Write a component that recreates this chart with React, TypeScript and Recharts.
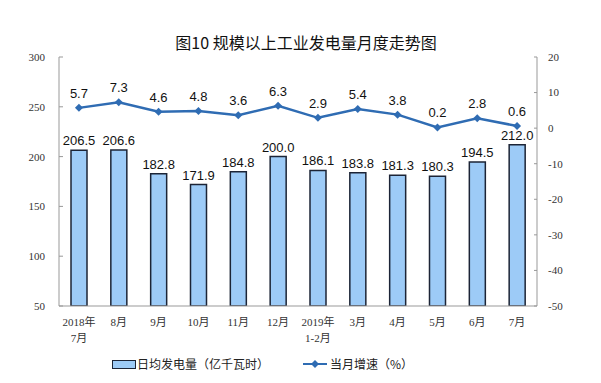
import React from "react";
import {
  Bar,
  ComposedChart,
  LabelList,
  Line,
  XAxis,
  YAxis,
} from "recharts";

// 日均发电量（亿千瓦时）与当月增速（%）
const months = [
  "2018年|7月",
  "8月",
  "9月",
  "10月",
  "11月",
  "12月",
  "2019年|1-2月",
  "3月",
  "4月",
  "5月",
  "6月",
  "7月",
];
const dailyOutput = [206.5, 206.6, 182.8, 171.9, 184.8, 200.0, 186.1, 183.8, 181.3, 180.3, 194.5, 212.0];
const growth = [5.7, 7.3, 4.6, 4.8, 3.6, 6.3, 2.9, 5.4, 3.8, 0.2, 2.8, 0.6];
const leftTicks = [50, 100, 150, 200, 250, 300];
const rightTicks = [-50, -40, -30, -20, -10, 0, 10, 20];

const data = months.map((m, i) => ({ month: m, output: dailyOutput[i], growth: growth[i] }));

const SERIF = "'Liberation Serif', 'Times New Roman', 'Noto Sans CJK SC', serif";
const SANS = "'Liberation Sans', Arial, sans-serif";
const CJK = "'Noto Sans CJK SC', sans-serif";
const BAR_FILL = "#9dcbf7";
const BAR_STROKE = "#1c2436";
const LINE = "#2f6cb3";

const MonthTick = (props: any) => {
  const { x, y, payload } = props;
  const lines = String(payload.value).split("|");
  return (
    <g transform={`translate(${x},${y})`}>
      {lines.map((t, i) => (
        <text
          key={i}
          x={0}
          y={12 + i * 16}
          textAnchor="middle"
          fill="#333"
          fontSize={11}
          fontFamily={SERIF}
        >
          {t}
        </text>
      ))}
    </g>
  );
};

const Diamond = (props: any) => {
  const { cx, cy } = props;
  if (cx == null || cy == null) return null;
  return <path d={`M${cx},${cy - 4}L${cx + 4},${cy}L${cx},${cy + 4}L${cx - 4},${cy}Z`} fill={LINE} />;
};

// legend drawn outside the chart so it doesn't eat into the plot height
const ChartLegend = () => (
  <div
    style={{
      position: "absolute",
      left: 0,
      top: 355,
      width: 601,
      height: 20,
      fontFamily: CJK,
      fontSize: 12,
      color: "#222",
    }}
  >
    <div
      style={{
        position: "absolute",
        left: 112,
        top: 5,
        width: 22,
        height: 7,
        background: BAR_FILL,
        border: `1px solid ${BAR_STROKE}`,
      }}
    />
    <span style={{ position: "absolute", left: 137, top: 0 }}>日均发电量（亿千瓦时）</span>
    <svg style={{ position: "absolute", left: 303, top: 3 }} width={24} height={12}>
      <line x1={0} y1={6} x2={24} y2={6} stroke={LINE} strokeWidth={2} />
      <path d="M12,2L16,6L12,10L8,6Z" fill={LINE} />
    </svg>
    <span style={{ position: "absolute", left: 330, top: 0 }}>当月增速（%）</span>
  </div>
);

export default function App() {
  return (
    <div style={{ position: "absolute", left: 0, top: 0, width: 601, height: 383, background: "#fff" }}>
      <div
        style={{
          position: "absolute",
          top: 30,
          left: 175,
          width: 262,
          textAlign: "center",
          fontFamily: CJK,
          fontSize: 16,
          fontWeight: 400,
          color: "#111",
          whiteSpace: "nowrap",
        }}
      >
        图10 规模以上工业发电量月度走势图
      </div>
      <ComposedChart
        width={601}
        height={383}
        data={data}
        margin={{ top: 57, right: 0, bottom: 37, left: 0 }}
      >
        <XAxis
          dataKey="month"
          tick={<MonthTick />}
          interval={0}
          height={40}
          axisLine={{ stroke: "#999" }}
          tickLine={false}
        />
        <YAxis
          yAxisId="left"
          orientation="left"
          width={59}
          domain={[50, 300]}
          ticks={leftTicks}
          allowDataOverflow
          axisLine={{ stroke: "#999" }}
          tickLine={{ stroke: "#999" }}
          tickSize={-4}
          tickMargin={18}
          tick={{ fill: "#333", fontSize: 11, fontFamily: SERIF }}
        />
        <YAxis
          yAxisId="right"
          orientation="right"
          width={64}
          domain={[-50, 20]}
          ticks={rightTicks}
          axisLine={{ stroke: "#999" }}
          tickLine={{ stroke: "#999" }}
          tickSize={-3}
          tickMargin={14}
          tick={{ fill: "#333", fontSize: 11, fontFamily: SERIF }}
        />
        <Bar
          yAxisId="left"
          dataKey="output"
          fill={BAR_FILL}
          stroke={BAR_STROKE}
          strokeWidth={1.5}
          barSize={16}
          isAnimationActive={false}
        >
          <LabelList
            dataKey="output"
            position="top"
            offset={5}
            formatter={(v: any) => Number(v).toFixed(1)}
            style={{ fill: "#111", fontSize: 13, fontFamily: SANS }}
          />
        </Bar>
        <Line
          yAxisId="right"
          dataKey="growth"
          stroke={LINE}
          strokeWidth={2.5}
          dot={<Diamond />}
          activeDot={false}
          isAnimationActive={false}
        >
          <LabelList
            dataKey="growth"
            position="top"
            offset={10}
            formatter={(v: any) => Number(v).toFixed(1)}
            style={{ fill: "#111", fontSize: 13, fontFamily: SANS }}
          />
        </Line>
      </ComposedChart>
      <ChartLegend />
    </div>
  );
}
